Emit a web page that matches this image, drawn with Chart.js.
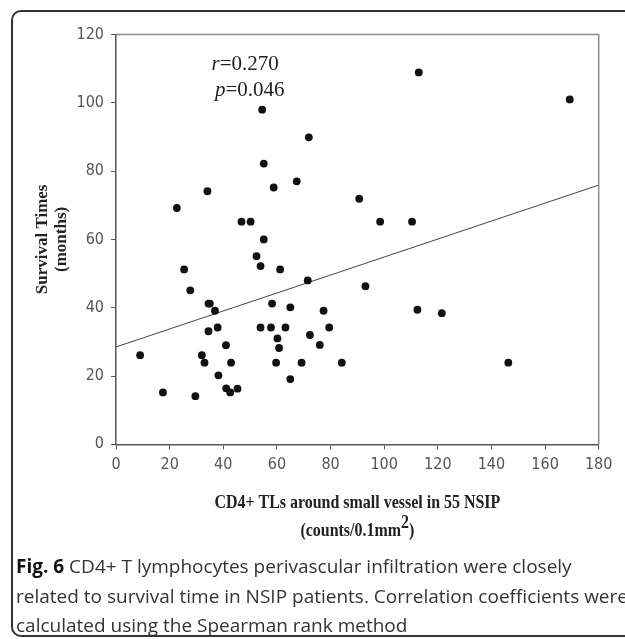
<!DOCTYPE html>
<html>
<head>
<meta charset="utf-8">
<script src="https://cdn.jsdelivr.net/npm/chart.js@4/dist/chart.umd.min.js"></script>
<style>
  html, body { margin: 0; padding: 0; background: #fff; }
  body { width: 625px; height: 639px; position: relative; overflow: hidden; }
  #chart { position: absolute; left: 0; top: 0; }
  .frame {
    position: absolute; left: 11px; top: 10px; width: 650px; height: 627px;
    border: 2px solid #333; border-radius: 10px; box-sizing: border-box;
    pointer-events: none;
  }
  .caption {
    position: absolute; left: 16px; top: 552px;
    font-family: "Open Sans", "Noto Sans", sans-serif; font-size: 19px;
    line-height: 29.5px; color: #333; white-space: nowrap;
  }
  .caption b { color: #111; }
</style>
</head>
<body>
<canvas id="chart" width="625" height="639"></canvas>
<div class="frame"></div>
<div class="caption">
  <b>Fig. 6</b> CD4+ T lymphocytes perivascular infiltration were closely<br>
  related to survival time in NSIP patients. Correlation coefficients were<br>
  calculated using the Spearman rank method
</div>
<script>
// CD4+ TL counts (x) and survival time in months (y)
const cd4Counts = [
  9.0, 17.5, 22.7, 25.4, 27.7, 29.6, 32.0, 33.0, 34.1, 34.5,
  35.0, 34.5, 36.9, 37.9, 38.2, 41.0, 41.1, 42.6, 42.9, 45.3,
  46.8, 50.2, 52.4, 53.9, 53.9, 54.5, 55.1, 55.1, 58.8, 57.8,
  58.2, 59.7, 60.2, 60.8, 61.2, 63.2, 65.0, 65.0, 67.4, 69.2,
  71.9, 71.5, 72.3, 76.0, 77.4, 79.5, 84.2, 90.7, 93.0, 98.5,
  110.4, 112.9, 112.4, 121.5, 146.3, 169.2
];
const survivalMonths = [
  26.1, 15.2, 69.2, 51.2, 45.1, 14.1, 26.1, 23.9, 74.1, 41.2,
  41.2, 33.1, 39.1, 34.2, 20.2, 29.0, 16.4, 15.2, 23.9, 16.3,
  65.2, 65.2, 55.1, 52.2, 34.2, 98.0, 82.2, 60.0, 75.2, 34.2,
  41.2, 23.9, 31.0, 28.2, 51.2, 34.2, 40.1, 19.1, 77.0, 23.9,
  89.9, 48.0, 32.0, 29.1, 39.1, 34.2, 23.9, 71.9, 46.3, 65.2,
  65.2, 108.9, 39.4, 38.4, 23.9, 101.0
];
// regression line end points
const fitX = [0, 180];
const fitY = [28.5, 75.9];

const xTicks = { min: 0, max: 180, step: 20 };
const yTicks = { min: 0, max: 120, step: 20 };

const statsLines = [
  { sym: "r", rest: "=0.270", x: 35.6, y: 109.6 },
  { sym: "p", rest: "=0.046", x: 36.9, y: 102.1 }
];
const xTitle1 = "CD4+ TLs around small vessel in 55 NSIP";
const xTitle2 = ["(counts/0.1mm", "2", ")"];

const points = cd4Counts.map((x, i) => ({ x: x, y: survivalMonths[i] }));
const fitLine = fitX.map((x, i) => ({ x: x, y: fitY[i] }));

const tickFont = { family: "'Liberation Sans Narrow', 'Arial Narrow', 'DejaVu Sans Condensed', sans-serif", size: 16 };
const titleFont = { family: "'Liberation Serif', 'DejaVu Serif', serif", size: 17, weight: "bold", lineHeight: 1.12 };

// gray frame on top and right of the plot area
const plotFrame = {
  id: "plotFrame",
  afterDraw(chart) {
    const { ctx, chartArea: a } = chart;
    ctx.save();
    ctx.strokeStyle = "#8a8a8a";
    ctx.lineWidth = 1.5;
    ctx.beginPath();
    ctx.moveTo(a.left, a.top);
    ctx.lineTo(a.right, a.top);
    ctx.lineTo(a.right, a.bottom);
    ctx.stroke();
    ctx.restore();
  }
};

// condensed bold serif x title with a real superscript
const xTitle = {
  id: "xTitle",
  afterDraw(chart) {
    const { ctx, chartArea: a } = chart;
    const cx = (a.left + a.right) / 2;
    const sx = 0.84;
    ctx.save();
    ctx.fillStyle = "#222";
    ctx.textBaseline = "alphabetic";
    ctx.font = "bold 19px 'Liberation Serif', serif";
    ctx.translate(cx, 0);
    ctx.scale(sx, 1);
    ctx.textAlign = "center";
    ctx.fillText(xTitle1, 0, a.bottom + 64);
    // second line: base, raised 2, closing paren
    const w0 = ctx.measureText(xTitle2[0]).width;
    const w1 = ctx.measureText(xTitle2[1]).width;
    const w2 = ctx.measureText(xTitle2[2]).width;
    let x = -(w0 + w1 + w2) / 2;
    const by = a.bottom + 92;
    ctx.textAlign = "left";
    ctx.fillText(xTitle2[0], x, by); x += w0;
    ctx.fillText(xTitle2[1], x, by - 8); x += w1;
    ctx.fillText(xTitle2[2], x, by);
    ctx.restore();
  }
};

// r / p text inside the plot
const statsText = {
  id: "statsText",
  afterDatasetsDraw(chart) {
    const { ctx, scales } = chart;
    ctx.save();
    ctx.fillStyle = "#222";
    ctx.textBaseline = "alphabetic";
    statsLines.forEach(l => {
      const px = scales.x.getPixelForValue(l.x);
      const py = scales.y.getPixelForValue(l.y);
      ctx.font = "italic 21px 'Liberation Serif', serif";
      ctx.fillText(l.sym, px, py);
      const w = ctx.measureText(l.sym).width;
      ctx.font = "21px 'Liberation Serif', serif";
      ctx.fillText(l.rest, px + w, py);
    });
    ctx.restore();
  }
};

new Chart(document.getElementById("chart"), {
  type: "scatter",
  data: {
    datasets: [
      {
        data: points,
        backgroundColor: "#111",
        borderColor: "#111",
        pointRadius: 3.9,
        pointHoverRadius: 3.9,
        borderWidth: 0
      },
      {
        type: "line",
        data: fitLine,
        borderColor: "#444",
        borderWidth: 1,
        pointRadius: 0,
        fill: false
      }
    ]
  },
  options: {
    responsive: false,
    devicePixelRatio: 1,
    animation: false,
    layout: { padding: { left: 0, top: 34.5, right: 26.3, bottom: 91 } },
    plugins: { legend: { display: false }, tooltip: { enabled: false } },
    scales: {
      x: {
        type: "linear",
        min: xTicks.min, max: xTicks.max,
        afterFit: s => { s.height = 103.7; },
        ticks: { stepSize: xTicks.step, color: "#555", font: tickFont, padding: 6, maxRotation: 0 },
        grid: { drawOnChartArea: false, drawTicks: true, tickLength: 5, color: "#555" },
        border: { color: "#555", width: 1.5 }
      },
      y: {
        type: "linear",
        min: yTicks.min, max: yTicks.max,
        afterFit: s => { s.width = 116; },
        ticks: { stepSize: yTicks.step, color: "#555", font: tickFont, padding: 7 },
        grid: { drawOnChartArea: false, drawTicks: true, tickLength: 5, color: "#555" },
        border: { color: "#555", width: 1.5 },
        title: {
          display: true,
          text: ["Survival Times", "(months)"],
          color: "#222",
          font: titleFont,
          padding: { top: 33.5, bottom: 0 }
        }
      }
    }
  },
  plugins: [plotFrame, xTitle, statsText]
});
</script>
</body>
</html>
